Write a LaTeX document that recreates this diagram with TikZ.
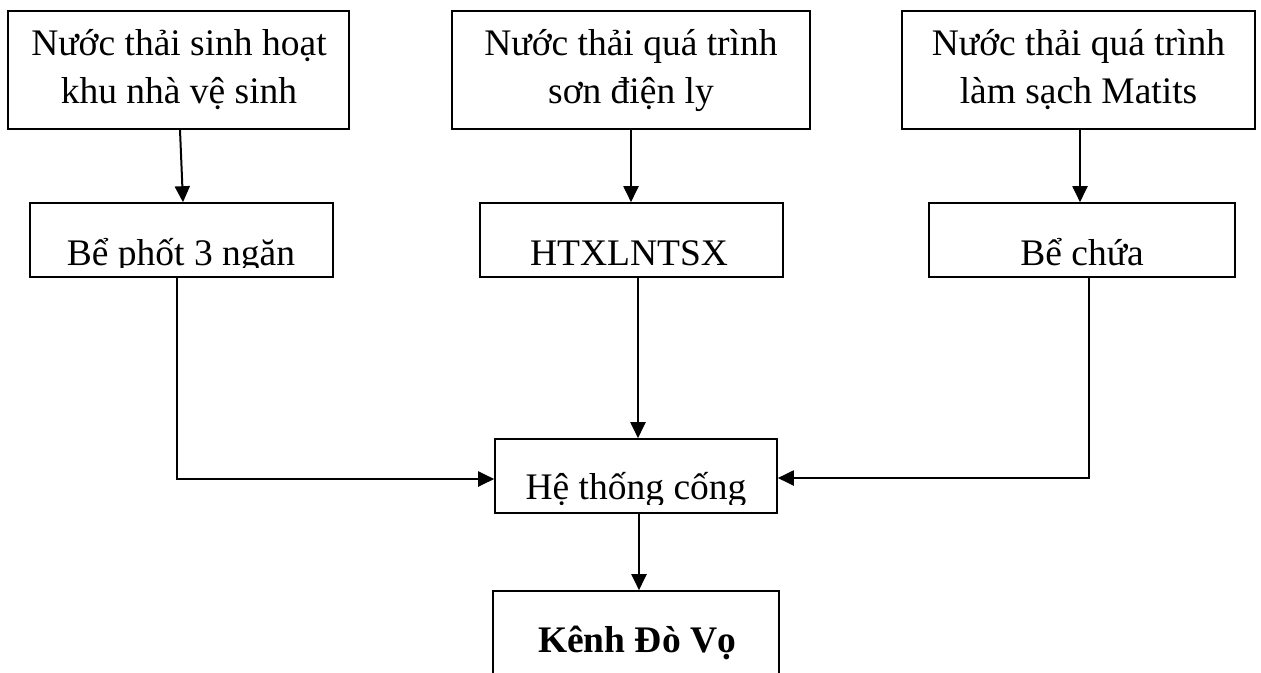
\documentclass[tikz,border=0pt]{standalone}
\usepackage{fontspec}
\setmainfont{Liberation Serif}
\usetikzlibrary{arrows.meta}
\begin{document}
\begin{tikzpicture}[x=1pt,y=-1pt,
  box/.style={draw,line width=1.6pt,inner sep=0pt},
  lbl/.style={font=\fontsize{37.5}{48}\selectfont, anchor=base, inner sep=0pt},
  conn/.style={line width=2pt,-{Triangle[width=15pt,length=16pt]}}]
\clip (0,0) rectangle (1261,672);
% boxes
\node[box, minimum width=341pt, minimum height=118pt] (b1) at (178.5,70) {};
\node[box, minimum width=358pt, minimum height=118pt] (b2) at (631,70) {};
\node[box, minimum width=353pt, minimum height=118pt] (b3) at (1078.5,70) {};
\node[box, minimum width=303pt, minimum height=74pt] (b4) at (181.5,240) {};
\node[box, minimum width=303pt, minimum height=74pt] (b5) at (631.5,240) {};
\node[box, minimum width=306pt, minimum height=74pt] (b6) at (1082,240) {};
\node[box, minimum width=282pt, minimum height=74pt] (htc) at (636,476) {};
\node[box, minimum width=286pt, minimum height=109pt] (kenh) at (636,645.5) {};
% texts
\node[lbl] (t1a) at (179,55) {Nước thải sinh hoạt};
\node[lbl] (t1b) at (179,103) {khu nhà vệ sinh};
\node[lbl] (t2a) at (631,55) {Nước thải quá trình};
\node[lbl] (t2b) at (631,103) {sơn điện ly};
\node[lbl] (t3a) at (1078.5,55) {Nước thải quá trình};
\node[lbl] (t3b) at (1078.5,103) {làm sạch Matits};
\begin{scope}
\clip (30,203) rectangle (333,267);
\node[lbl] (t4) at (181,265) {Bể phốt 3 ngăn};
\end{scope}
\node[lbl] (t5) at (629,265) {HTXLNTSX};
\node[lbl] (t6) at (1082,265) {Bể chứa};
\begin{scope}
\clip (495,439) rectangle (777,504);
\node[lbl] (t7) at (636,499) {Hệ thống cống};
\end{scope}
\node[lbl, font=\fontsize{37.5}{48}\selectfont\bfseries] (t8) at (637,652) {Kênh Đò Vọ};
% connectors
\draw[conn] ([xshift=1.5pt]b1.south) -- ([xshift=1.5pt]b4.north);
\draw[conn] (b2.south) -- (b2.south |- b5.north);
\draw[conn] ([xshift=1.5pt]b3.south) -- ([xshift=1.5pt]b3.south |- b6.north);
\draw[conn] ([xshift=-4.5pt]b4.south) |- ([yshift=-3pt]htc.west);
\draw[conn] ([xshift=6.5pt]b5.south) -- ([xshift=6.5pt]b5.south |- htc.north);
\draw[conn] ([xshift=7pt]b6.south) |- ([yshift=-2pt]htc.east);
\draw[conn] ([xshift=3pt]htc.south) -- ([xshift=3pt]htc.south |- kenh.north);
\end{tikzpicture}
\end{document}
